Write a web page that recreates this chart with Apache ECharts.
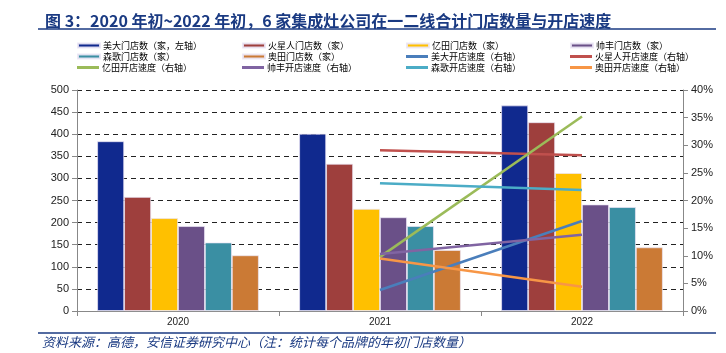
<!DOCTYPE html>
<html>
<head>
<meta charset="utf-8">
<script src="https://cdn.jsdelivr.net/npm/echarts@6/dist/echarts.min.js"></script>
<style>
  html, body { margin: 0; padding: 0; background: #fff; }
  #chart { width: 726px; height: 353px; }
</style>
</head>
<body>
<div id="chart"></div>
<script>
const FONT = '"Noto Sans CJK SC", "Liberation Sans", sans-serif';
const years = ['2020', '2021', '2022'];

// 门店数（家）
const meidaStores = [384, 401, 465];
const huoxingrenStores = [258, 333, 427];
const yitianStores = [210, 231, 312];
const shuaifengStores = [192, 212, 241];
const sengeStores = [155, 192, 235];
const aotianStores = [126, 138, 144];

// 开店速度（%）
const meidaSpeed = [null, 3.8, 16.3];
const huoxingrenSpeed = [null, 29.1, 28.2];
const yitianSpeed = [null, 9.8, 35.2];
const shuaifengSpeed = [null, 10.3, 13.8];
const sengeSpeed = [null, 23.1, 21.9];
const aotianSpeed = [null, 9.5, 4.4];

const leftTicks = { min: 0, max: 500, interval: 50 };
const rightTicks = { min: 0, max: 40, interval: 5 };

const barSeries = [
  ['美大门店数（家，左轴）', meidaStores, '#10298e'],
  ['火星人门店数（家）', huoxingrenStores, '#9e3f3d'],
  ['亿田门店数（家）', yitianStores, '#ffc000'],
  ['帅丰门店数（家）', shuaifengStores, '#6a5088'],
  ['森歌门店数（家）', sengeStores, '#3a8fa3'],
  ['奥田门店数（家）', aotianStores, '#cb7a35'],
];
const lineSeries = [
  ['美大开店速度（右轴）', meidaSpeed, '#4a7ebb'],
  ['火星人开店速度（右轴）', huoxingrenSpeed, '#c0504d'],
  ['亿田开店速度（右轴）', yitianSpeed, '#9bbb59'],
  ['帅丰开店速度（右轴）', shuaifengSpeed, '#8064a2'],
  ['森歌开店速度（右轴）', sengeSpeed, '#4bacc6'],
  ['奥田开店速度（右轴）', aotianSpeed, '#f79646'],
];

// legend laid out as 4 columns x 3 rows
const allNames = barSeries.map(x => x[0]).concat(lineSeries.map(x => x[0]));
const colX = [77, 242, 406, 570];
const rowY = [41, 52, 63];
const legends = allNames.map((name, i) => ({
  data: [name],
  left: colX[i % 4],
  top: rowY[Math.floor(i / 4)],
  icon: 'rect',
  itemWidth: 22,
  itemHeight: i < 6 ? 4 : 3,
  itemGap: 2,
  padding: 0,
  textStyle: { fontFamily: FONT, fontSize: 9, color: '#000', padding: [0, 0, 0, -2] },
}));

const dashed = { show: true, lineStyle: { color: '#222', type: [5, 4], width: 1 } };

const chart = echarts.init(document.getElementById('chart'), null, { renderer: 'canvas' });
chart.setOption({
  animation: false,
  title: {
    text: '图 3：2020 年初~2022 年初，6 家集成灶公司在一二线合计门店数量与开店速度',
    left: 40,
    top: 8,
    textStyle: { fontFamily: FONT, fontSize: 16, fontWeight: 'bold', color: '#1a3a82' },
  },
  graphic: [
    { type: 'line', shape: { x1: 38, y1: 29, x2: 716, y2: 29 }, style: { stroke: '#1a3a82', lineWidth: 1.5 } },
    { type: 'line', shape: { x1: 38, y1: 333, x2: 716, y2: 333 }, style: { stroke: '#1a3a82', lineWidth: 1.5 } },
    {
      type: 'text', left: 42, top: 336,
      style: {
        text: '资料来源：高德，安信证券研究中心（注：统计每个品牌的年初门店数量）',
        fontFamily: FONT, fontSize: 13, fontStyle: 'italic', fill: '#1a3a82',
      },
    },
  ],
  legend: legends,
  grid: { left: 77, right: 43, top: 90, bottom: 42 },
  xAxis: {
    type: 'category',
    data: years,
    axisLine: { lineStyle: { color: '#888' } },
    axisTick: { show: true, lineStyle: { color: '#888' } },
    axisLabel: { fontFamily: 'Liberation Sans', fontSize: 10, color: '#222', margin: 6 },
  },
  yAxis: [
    {
      type: 'value', ...leftTicks,
      axisLine: { show: true, lineStyle: { color: '#888' } },
      axisTick: { show: true, lineStyle: { color: '#888' } },
      axisLabel: { fontFamily: 'Liberation Sans', fontSize: 11, color: '#222', margin: 8 },
      splitLine: dashed,
    },
    {
      type: 'value', ...rightTicks,
      position: 'right',
      axisLine: { show: true, lineStyle: { color: '#888' } },
      axisTick: { show: true, lineStyle: { color: '#888' } },
      axisLabel: { fontFamily: 'Liberation Sans', fontSize: 11, color: '#222', margin: 8, formatter: '{value}%' },
      splitLine: { show: false },
    },
  ],
  series: barSeries.map(([name, data, color]) => ({
    name,
    type: 'bar',
    yAxisIndex: 0,
    data,
    barGap: '0%',
    barCategoryGap: '20%',
    itemStyle: { color, borderColor: 'rgba(235,230,245,0.9)', borderWidth: 0.8 },
  })).concat(lineSeries.map(([name, data, color]) => ({
    name,
    type: 'line',
    yAxisIndex: 1,
    data,
    showSymbol: false,
    symbol: 'none',
    lineStyle: { color, width: 2.5 },
    itemStyle: { color },
    z: 5,
  }))),
});
window.addEventListener('resize', chart.resize);
</script>
</body>
</html>
